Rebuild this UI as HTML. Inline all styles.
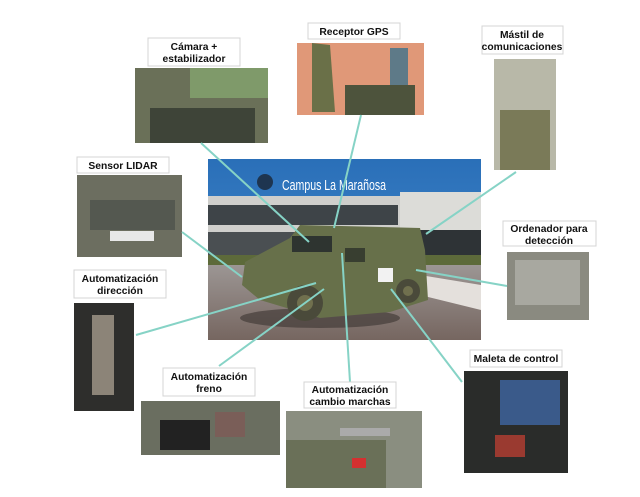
<!DOCTYPE html>
<html><head><meta charset="utf-8"><style>
html,body{margin:0;padding:0;background:#fff;width:640px;height:497px;overflow:hidden}
svg{display:block}
.l{font-family:"Liberation Sans",sans-serif;font-size:10.3px;font-weight:bold;fill:#111;text-anchor:middle}
.b{fill:#fff;stroke:#d4d4d4;stroke-width:1}
.c{stroke:#86d3c6;stroke-width:2;fill:none}
</style></head><body>
<svg width="640" height="497" viewBox="0 0 640 497">
<defs>
<linearGradient id="sky" x1="0" y1="0" x2="0" y2="1"><stop offset="0" stop-color="#2a6fb8"/><stop offset="1" stop-color="#4a90d0"/></linearGradient>
<linearGradient id="pave" x1="0" y1="0" x2="0" y2="1"><stop offset="0" stop-color="#9c9694"/><stop offset="1" stop-color="#766660"/></linearGradient>
</defs>

<rect x="208" y="159" width="273" height="181" fill="url(#sky)"/>
<rect x="208" y="196" width="273" height="68" fill="#cfcfcc"/>
<rect x="208" y="205" width="190" height="20" fill="#3e4448"/>
<rect x="208" y="232" width="190" height="28" fill="#4a4f52"/>
<rect x="400" y="192" width="81" height="70" fill="#dcdcd8"/>
<rect x="420" y="230" width="61" height="30" fill="#2e3336"/>
<rect x="208" y="255" width="273" height="10" fill="#5d6a3a"/>
<rect x="208" y="265" width="273" height="75" fill="url(#pave)"/>
<polygon points="420,275 481,285 481,310 420,295" fill="#e4e0dc"/>
<ellipse cx="320" cy="318" rx="80" ry="10" fill="#3a3430" opacity="0.6"/>
<polygon points="245,262 290,238 300,225 420,228 425,250 428,300 390,312 320,318 260,300 242,285" fill="#67704a"/>
<rect x="292" y="236" width="40" height="16" fill="#2e3430"/>
<rect x="345" y="248" width="20" height="14" fill="#383e30"/>
<rect x="378" y="268" width="15" height="14" fill="#f2f2f2"/>
<circle cx="305" cy="303" r="18" fill="#4a4a3a"/><circle cx="305" cy="303" r="8" fill="#70704e"/>
<circle cx="408" cy="291" r="12" fill="#4a4a3a"/><circle cx="408" cy="291" r="5" fill="#70704e"/>
<circle cx="265" cy="182" r="8" fill="#1e3550"/>
<text x="282" y="190" font-family="Liberation Sans, sans-serif" font-size="15" fill="#fff" textLength="104" lengthAdjust="spacingAndGlyphs">Campus La Marañosa</text>

<rect x="135" y="68" width="133" height="75" fill="#6a7058"/>
<rect x="190" y="68" width="78" height="30" fill="#7f9a6a"/>
<rect x="150" y="108" width="105" height="35" fill="#3e4438"/>
<rect x="297" y="43" width="127" height="72" fill="#e09878"/>
<polygon points="312,43 330,45 335,112 312,112" fill="#6a7048"/>
<rect x="390" y="48" width="18" height="50" fill="#5e7a88"/>
<rect x="345" y="85" width="70" height="30" fill="#4d533c"/>
<rect x="494" y="59" width="62" height="111" fill="#b8b8a8"/>
<rect x="500" y="110" width="50" height="60" fill="#7a7a58"/>
<rect x="77" y="175" width="105" height="82" fill="#6c6e60"/>
<rect x="90" y="200" width="85" height="30" fill="#545850"/>
<rect x="110" y="231" width="44" height="10" fill="#e8e8e8"/>
<rect x="507" y="252" width="82" height="68" fill="#8a8a80"/>
<rect x="515" y="260" width="65" height="45" fill="#a8a8a0"/>
<rect x="74" y="303" width="60" height="108" fill="#2e2e2c"/>
<rect x="92" y="315" width="22" height="80" fill="#8c8478"/>
<rect x="141" y="401" width="139" height="54" fill="#6a6e60"/>
<rect x="160" y="420" width="50" height="30" fill="#222"/>
<rect x="215" y="412" width="30" height="25" fill="#7a5e58"/>
<rect x="286" y="411" width="136" height="77" fill="#8a8e80"/>
<rect x="286" y="440" width="100" height="48" fill="#6a7058"/>
<rect x="340" y="428" width="50" height="8" fill="#aaaaaa"/>
<rect x="352" y="458" width="14" height="10" fill="#d43030"/>
<rect x="464" y="371" width="104" height="102" fill="#2a2c2a"/>
<rect x="500" y="380" width="60" height="45" fill="#3a5a8a"/>
<rect x="495" y="435" width="30" height="22" fill="#9a3a30"/>

<line class="c" x1="201" y1="143" x2="309" y2="242"/>
<line class="c" x1="361" y1="115" x2="334" y2="228"/>
<line class="c" x1="516" y1="172" x2="426" y2="234"/>
<line class="c" x1="182" y1="232" x2="242" y2="277"/>
<line class="c" x1="507" y1="286" x2="416" y2="270"/>
<line class="c" x1="136" y1="335" x2="316" y2="283"/>
<line class="c" x1="219" y1="366" x2="324" y2="289"/>
<line class="c" x1="350" y1="382" x2="342" y2="253"/>
<line class="c" x1="462" y1="382" x2="391" y2="289"/>

<rect class="b" x="148" y="38" width="92" height="28"/><text class="l" x="194" y="50">Cámara +</text><text class="l" x="194" y="62">estabilizador</text>
<rect class="b" x="308" y="23" width="92" height="16"/><text class="l" x="354" y="35">Receptor GPS</text>
<rect class="b" x="482" y="26" width="81" height="28"/><text class="l" x="522" y="38">Mástil de</text><text class="l" x="522" y="50">comunicaciones</text>
<rect class="b" x="77" y="157" width="92" height="16"/><text class="l" x="123" y="169">Sensor LIDAR</text>
<rect class="b" x="503" y="221" width="93" height="25"/><text class="l" x="549" y="232">Ordenador para</text><text class="l" x="549" y="244">detección</text>
<rect class="b" x="74" y="270" width="92" height="28"/><text class="l" x="120" y="282">Automatización</text><text class="l" x="120" y="294">dirección</text>
<rect class="b" x="163" y="368" width="92" height="28"/><text class="l" x="209" y="380">Automatización</text><text class="l" x="209" y="392">freno</text>
<rect class="b" x="304" y="382" width="92" height="26"/><text class="l" x="350" y="393">Automatización</text><text class="l" x="350" y="405">cambio marchas</text>
<rect class="b" x="470" y="350" width="92" height="17"/><text class="l" x="516" y="362">Maleta de control</text>
</svg>
</body></html>
